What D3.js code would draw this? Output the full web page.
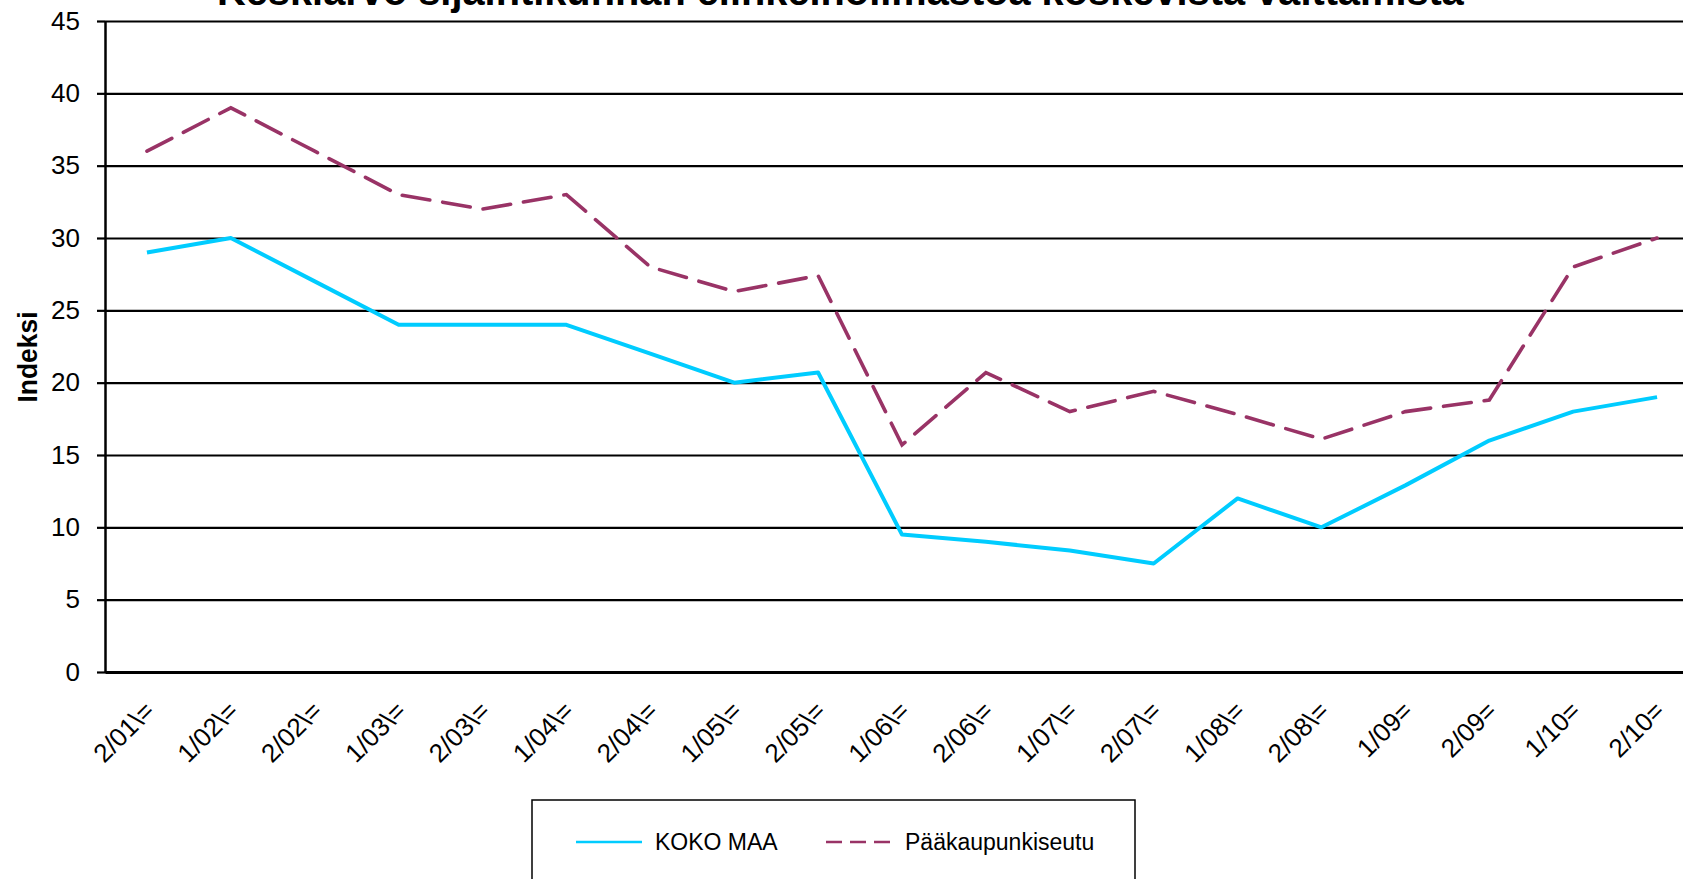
<!DOCTYPE html>
<html>
<head>
<meta charset="utf-8">
<script src="https://cdn.jsdelivr.net/npm/d3@7"></script>
<style>
  body { margin: 0; background: #fff; }
  svg { display: block; font-family: Arial, "Liberation Sans", sans-serif; }
</style>
</head>
<body>
<svg width="1683" height="879"></svg>
<script>
// Data
var kaudet = ["2/01\\=", "1/02\\=", "2/02\\=", "1/03\\=", "2/03\\=", "1/04\\=", "2/04\\=", "1/05\\=", "2/05\\=",
  "1/06\\=", "2/06\\=", "1/07\\=", "2/07\\=", "1/08\\=", "2/08\\=", "1/09=", "2/09=", "1/10=", "2/10="];
var kokoMaa = [29, 30, 27, 24, 24, 24, 22, 20, 20.7, 9.5, 9, 8.4, 7.5, 12, 10, 12.9, 16, 18, 19];
var paakaupunkiseutu = [36, 39, 36, 33, 32, 33, 28, 26.3, 27.4, 15.7, 20.7, 18, 19.4, 17.8, 16.1, 18, 18.8, 28, 30];
var yTicks = [0, 5, 10, 15, 20, 25, 30, 35, 40, 45];

var svg = d3.select("svg");

var x = d3.scalePoint().domain(kaudet).range([105, 1699]).padding(0.5);
var y = d3.scaleLinear().domain([0, 45]).range([672, 21]);

// gridlines
svg
  .append("g")
  .attr("class", "grid")
  .attr("transform", "translate(105,0)")
  .call(d3.axisLeft(y).tickValues(yTicks).tickSize(-1700).tickFormat(""))
  .call(g => g.select(".domain").remove())
  .selectAll("line")
  .attr("stroke", "#000")
  .attr("stroke-width", 2.2);

// y axis
var yAxis = svg
  .append("g")
  .attr("transform", "translate(105,0)")
  .call(d3.axisLeft(y).tickValues(yTicks).tickSizeInner(8).tickSizeOuter(0).tickPadding(17));
yAxis.select(".domain").attr("stroke", "#000").attr("stroke-width", 2.5);
yAxis.selectAll(".tick line").attr("stroke", "#000").attr("stroke-width", 2.2);
yAxis
  .selectAll(".tick text")
  .attr("font-size", "26px")
  .attr("font-family", "Arial, 'Liberation Sans', sans-serif")
  .attr("fill", "#000");

// x axis
var xAxis = svg
  .append("g")
  .attr("transform", "translate(0,672)")
  .call(d3.axisBottom(x).tickSize(0).tickSizeOuter(0));
xAxis.select(".domain").attr("stroke", "#000").attr("stroke-width", 3);
xAxis
  .selectAll(".tick text")
  .attr("x", 0)
  .attr("y", 0)
  .attr("dy", "0.35em")
  .attr("text-anchor", "end")
  .attr("transform", "translate(2,34) rotate(-45)")
  .attr("font-size", "26px")
  .attr("font-family", "Arial, 'Liberation Sans', sans-serif")
  .attr("fill", "#000");

// series
var line = d3
  .line()
  .x(function(d, i) {
    return x(kaudet[i]);
  })
  .y(function(d) {
    return y(d);
  });

svg
  .append("path")
  .datum(kokoMaa)
  .attr("d", line)
  .attr("fill", "none")
  .attr("stroke", "#00CCFF")
  .attr("stroke-width", 4)
  .attr("stroke-linejoin", "round");

svg
  .append("path")
  .datum(paakaupunkiseutu)
  .attr("d", line)
  .attr("fill", "none")
  .attr("stroke", "#993366")
  .attr("stroke-width", 3.6)
  .attr("stroke-dasharray", "28,13")
  .attr("stroke-linecap", "round");

// title (cut off at the top)
svg
  .append("text")
  .attr("x", 217)
  .attr("y", 5)
  .attr("font-size", "40px")
  .attr("font-weight", "bold")
  .attr("textLength", 1247)
  .attr("lengthAdjust", "spacingAndGlyphs")
  .text("Keskiarvo sijaintikunnan elinkeinoilmastoa koskevista väittämistä");

// y title
svg
  .append("text")
  .attr("transform", "translate(37,357) rotate(-90)")
  .attr("text-anchor", "middle")
  .attr("font-size", "28px")
  .attr("font-weight", "bold")
  .attr("textLength", 91)
  .attr("lengthAdjust", "spacingAndGlyphs")
  .text("Indeksi");

// legend
var legend = svg.append("g");
legend
  .append("rect")
  .attr("x", 532)
  .attr("y", 800)
  .attr("width", 603)
  .attr("height", 120)
  .attr("fill", "#fff")
  .attr("stroke", "#000")
  .attr("stroke-width", 1.5);

var legendItems = [
  { name: "KOKO MAA", color: "#00CCFF", dash: null, x: 576 },
  { name: "Pääkaupunkiseutu", color: "#993366", dash: "16,8", x: 826 }
];

legend
  .selectAll("line")
  .data(legendItems)
  .enter()
  .append("line")
  .attr("x1", d => d.x)
  .attr("x2", d => d.x + 66)
  .attr("y1", 842)
  .attr("y2", 842)
  .attr("stroke", d => d.color)
  .attr("stroke-width", 2.5)
  .attr("stroke-dasharray", d => d.dash);

legend
  .selectAll("text")
  .data(legendItems)
  .enter()
  .append("text")
  .attr("x", d => d.x + 79)
  .attr("y", 842)
  .attr("dy", "0.35em")
  .attr("font-size", "23px")
  .attr("fill", "#000")
  .text(d => d.name);
</script>
</body>
</html>
